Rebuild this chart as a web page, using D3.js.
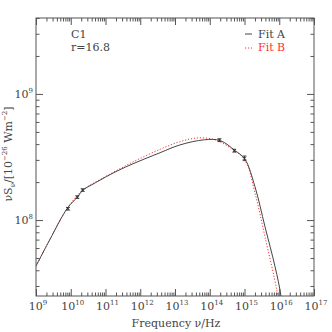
<!DOCTYPE html>
<meta charset="utf-8">
<style>
html, body { margin: 0; padding: 0; background: #fff; }
text { font-family: "DejaVu Serif", "Liberation Serif", serif; fill: #444; }
.frame { fill: none; stroke: #555; stroke-width: 1; }
.tick line { stroke: #555; }
.fitA { fill: none; stroke: #444; stroke-width: 1; }
.fitB { fill: none; stroke: #ff3030; stroke-width: 1; stroke-dasharray: 1.2 1.8; }
.pt { stroke: #333; stroke-width: 0.9; fill: none; }
</style>
<body>
<script src="https://d3js.org/d3.v7.min.js"></script>
<script>
// data
var fitAFreq = [1e9, 2.5e9, 8.05e9, 1.55e10, 2.24e10, 3.98e10, 6.9e10, 1.66e11, 5.07e11, 3.72e12, 1.38e13, 7.0e13, 2.0e14, 5.37e14, 1.02e15, 2.0e15, 3.89e15, 7.59e15, 1.12e16, 1.29e16];
var fitAFlux = [4.32e7, 7.0e7, 1.245e8, 1.52e8, 1.73e8, 1.90e8, 2.07e8, 2.36e8, 2.73e8, 3.42e8, 3.94e8, 4.33e8, 4.27e8, 3.55e8, 3.05e8, 1.84e8, 8.85e7, 4.26e7, 2.5e7, 1.6e7];
var fitBFreq = [1e9, 2.5e9, 8.05e9, 2.24e10, 6.9e10, 5.07e11, 3.72e12, 1.38e13, 4.57e13, 1.41e14, 3.8e14, 1.02e15, 2.0e15, 3.89e15, 8.5e15, 1.05e16];
var fitBFlux = [4.3e7, 7.0e7, 1.25e8, 1.73e8, 2.09e8, 2.81e8, 3.64e8, 4.18e8, 4.48e8, 4.33e8, 3.75e8, 2.99e8, 1.64e8, 7.36e7, 2.78e7, 1.85e7];
var obsFreq = [8.3e9, 1.55e10, 2.2e10, 1.9e14, 5.1e14, 1.0e15];
var obsFlux = [1.23e8, 1.52e8, 1.73e8, 4.3e8, 3.55e8, 3.09e8];
var obsErr  = [0.03e8, 0.035e8, 0.04e8, 0.11e8, 0.09e8, 0.13e8];
var xTickExp = [9, 10, 11, 12, 13, 14, 15, 16, 17];
var yTickExp = [8, 9];

var W = 332, H = 332;
var margin = {top: 18, right: 18, bottom: 36, left: 36};
var width = W - margin.left - margin.right,
    height = H - margin.top - margin.bottom;

var x = d3.scaleLog().domain([1e9, 1e17]).range([0, width]);
var y = d3.scaleLog().domain([2.5e7, 4e9]).range([height, 0]);

var svg = d3.select("body").append("svg")
    .attr("width", W).attr("height", H);
var g = svg.append("g")
    .attr("transform", "translate(" + margin.left + "," + margin.top + ")");

g.append("clipPath").attr("id", "clip")
  .append("rect").attr("width", width).attr("height", height);

// minor + major ticks, pointing inward, on all four sides
var xMinor = [], yMinor = [];
for (var e = 9; e < 17; e++) for (var m = 2; m <= 9; m++) xMinor.push(m * Math.pow(10, e));
for (var e2 = 7; e2 < 10; e2++) for (var m2 = 2; m2 <= 9; m2++) {
  var v = m2 * Math.pow(10, e2);
  if (v >= 2.5e7 && v <= 4e9) yMinor.push(v);
}
var xMajor = xTickExp.map(function(d) { return Math.pow(10, d); });
var yMajor = yTickExp.map(function(d) { return Math.pow(10, d); });

function ticks(axisFn, scale, vals, len, transform) {
  g.append("g").attr("transform", transform)
    .call(axisFn(scale).tickValues(vals).tickSize(len).tickFormat(""))
    .call(function(s) { s.select(".domain").remove(); });
}
ticks(d3.axisTop, x, xMinor, 3.5, "translate(0," + height + ")");
ticks(d3.axisTop, x, xMajor, 7, "translate(0," + height + ")");
ticks(d3.axisBottom, x, xMinor, 3.5, "translate(0,0)");
ticks(d3.axisBottom, x, xMajor, 7, "translate(0,0)");
ticks(d3.axisRight, y, yMinor, 3.5, "translate(0,0)");
ticks(d3.axisRight, y, yMajor, 7, "translate(0,0)");
ticks(d3.axisLeft, y, yMinor, 3.5, "translate(" + width + ",0)");
ticks(d3.axisLeft, y, yMajor, 7, "translate(" + width + ",0)");

g.append("rect").attr("class", "frame").attr("width", width).attr("height", height);

// tick labels
function powLabel(sel, e) {
  sel.append("tspan").text("10");
  sel.append("tspan").attr("dy", -5).attr("font-size", 7).text(e);
}
xTickExp.forEach(function(e) {
  var t = g.append("text").attr("x", x(Math.pow(10, e)) + 2).attr("y", height + 14)
    .attr("text-anchor", "middle").attr("font-size", 11);
  powLabel(t, e);
});
yTickExp.forEach(function(e) {
  var t = g.append("text").attr("x", -3).attr("y", y(Math.pow(10, e)) + 4)
    .attr("text-anchor", "end").attr("font-size", 11);
  powLabel(t, e);
});

// axis titles
g.append("text").attr("x", width / 2 + 1).attr("y", height + 31)
  .attr("text-anchor", "middle").attr("font-size", 11)
  .text("Frequency \u03bd/Hz");

var yl = svg.append("text").attr("transform", "translate(12," + 154 + ") rotate(-90)")
  .attr("text-anchor", "middle").attr("font-size", 11);
yl.append("tspan").text("\u03bdS");
yl.append("tspan").attr("dy", 3).attr("font-size", 7).text("\u03bd");
yl.append("tspan").attr("dy", -3).text("/[10");
yl.append("tspan").attr("dy", -5).attr("font-size", 7).text("\u221226");
yl.append("tspan").attr("dy", 5).text(" Wm");
yl.append("tspan").attr("dy", -5).attr("font-size", 7).text("\u22122");
yl.append("tspan").attr("dy", 5).text("]");

// curves
var line = d3.line()
  .x(function(d) { return x(d[0]); })
  .y(function(d) { return y(d[1]); })
  .curve(d3.curveCatmullRom.alpha(0.5));

var plot = g.append("g").attr("clip-path", "url(#clip)");
plot.append("path").attr("class", "fitB")
  .attr("d", line(d3.zip(fitBFreq, fitBFlux)));
plot.append("path").attr("class", "fitA")
  .attr("d", line(d3.zip(fitAFreq, fitAFlux)));

// observed points: x marker + error bar with caps
obsFreq.forEach(function(f, i) {
  var px = x(f), py = y(obsFlux[i]);
  var y0 = y(obsFlux[i] - obsErr[i]), y1 = y(obsFlux[i] + obsErr[i]);
  var p = plot.append("g").attr("class", "pt");
  p.append("line").attr("x1", px).attr("x2", px).attr("y1", y0).attr("y2", y1);
  p.append("line").attr("x1", px - 1.8).attr("x2", px + 1.8).attr("y1", y0).attr("y2", y0);
  p.append("line").attr("x1", px - 1.8).attr("x2", px + 1.8).attr("y1", y1).attr("y2", y1);
  p.append("path").attr("d", "M" + (px - 1.6) + "," + (py - 1.6) + "L" + (px + 1.6) + "," + (py + 1.6) +
    "M" + (px - 1.6) + "," + (py + 1.6) + "L" + (px + 1.6) + "," + (py - 1.6));
});

// annotations
g.append("text").attr("x", 35).attr("y", 20).attr("font-size", 11).text("C1");
g.append("text").attr("x", 35).attr("y", 33).attr("font-size", 11).text("r=16.8");

// legend
g.append("line").attr("class", "fitA").attr("x1", 209).attr("x2", 216).attr("y1", 16).attr("y2", 16);
g.append("text").attr("x", 222).attr("y", 20).attr("font-size", 11).text("Fit A");
g.append("line").attr("class", "fitB").attr("x1", 209).attr("x2", 216).attr("y1", 30).attr("y2", 30);
g.append("text").attr("x", 222).attr("y", 33).attr("font-size", 11).style("fill", "#ff3030").text("Fit B");
</script>
</body>
